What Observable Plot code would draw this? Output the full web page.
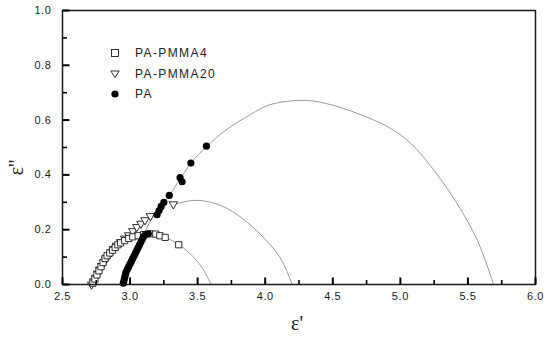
<!DOCTYPE html>
<html>
<head>
<meta charset="utf-8">
<script src="https://cdn.jsdelivr.net/npm/d3@7"></script>
<script src="https://cdn.jsdelivr.net/npm/@observablehq/plot@0.6"></script>
<style>
  html, body { margin: 0; padding: 0; background: #fff; }
  #wrap { position: relative; width: 550px; height: 338px; font-family: "Liberation Sans", Arial, sans-serif; color: #222; }
  .lab { position: absolute; font-family: "Liberation Serif", "DejaVu Serif", serif; font-size: 20px; color: #222; white-space: nowrap; }
  .leg { position: absolute; left: 108px; height: 14px; display: flex; align-items: center; font-size: 12px; letter-spacing: 1.4px; color: #222; white-space: nowrap; }
  .leg svg { width: 14px; height: 14px; margin-right: 13px; }
</style>
</head>
<body>
<div id="wrap"></div>
<script>
// ---- data ----
const seriesNames = ["PA-PMMA4", "PA-PMMA20", "PA"];

// PA-PMMA4 (open squares)
const pmma4X = [2.725, 2.74, 2.755, 2.77, 2.785, 2.80, 2.815, 2.83, 2.85, 2.87, 2.89, 2.91, 2.93, 2.96, 2.99, 3.02, 3.06, 3.10, 3.15, 3.19, 3.22, 3.26, 3.36];
const pmma4Y = [0.005, 0.02, 0.035, 0.05, 0.065, 0.08, 0.095, 0.105, 0.115, 0.125, 0.135, 0.145, 0.152, 0.16, 0.168, 0.174, 0.178, 0.182, 0.185, 0.184, 0.178, 0.172, 0.145];

// PA-PMMA20 (open down-triangles)
const pmma20X = [2.715, 2.73, 2.745, 2.76, 2.775, 2.79, 2.805, 2.82, 2.84, 2.86, 2.88, 2.90, 2.93, 2.96, 2.99, 3.02, 3.05, 3.08, 3.11, 3.15, 3.32];
const pmma20Y = [0.0, 0.012, 0.025, 0.04, 0.055, 0.068, 0.08, 0.092, 0.105, 0.118, 0.13, 0.142, 0.155, 0.168, 0.18, 0.195, 0.21, 0.222, 0.235, 0.25, 0.293];

// PA (filled circles)
const paX = [2.95, 2.955, 2.96, 2.965, 2.97, 2.98, 2.99, 3.00, 3.01, 3.02, 3.03, 3.04, 3.05, 3.06, 3.07, 3.08, 3.09, 3.10, 3.115, 3.135, 3.20, 3.215, 3.23, 3.25, 3.29, 3.37, 3.385, 3.45, 3.565];
const paY = [0.005, 0.015, 0.025, 0.035, 0.045, 0.055, 0.065, 0.075, 0.085, 0.095, 0.105, 0.115, 0.125, 0.135, 0.145, 0.155, 0.165, 0.175, 0.183, 0.185, 0.255, 0.27, 0.285, 0.30, 0.325, 0.39, 0.375, 0.443, 0.505];

// fitted arcs (grey lines)
const fitPAX = [2.95, 3.0, 3.05, 3.10, 3.16, 3.25, 3.29, 3.37, 3.45, 3.57, 3.7, 3.89, 4.04, 4.3, 4.51, 4.76, 4.93, 5.08, 5.25, 5.42, 5.57, 5.69];
const fitPAY = [0.0, 0.06, 0.12, 0.18, 0.24, 0.30, 0.325, 0.385, 0.443, 0.505, 0.56, 0.62, 0.657, 0.672, 0.653, 0.609, 0.569, 0.514, 0.416, 0.295, 0.161, 0.0];
const fit20X = [3.32, 3.47, 3.595, 3.72, 3.87, 3.99, 4.09, 4.15, 4.20];
const fit20Y = [0.292, 0.307, 0.30, 0.277, 0.226, 0.17, 0.113, 0.06, 0.0];
const fit4X = [3.15, 3.26, 3.36, 3.47, 3.546, 3.60];
const fit4Y = [0.185, 0.172, 0.146, 0.10, 0.051, 0.0];

// ticks
const xMajor = [2.5, 3.0, 3.5, 4.0, 4.5, 5.0, 5.5, 6.0];
const xMinor = [2.75, 3.25, 3.75, 4.25, 4.75, 5.25, 5.75];
const yMajor = [0.0, 0.2, 0.4, 0.6, 0.8, 1.0];
const yMinor = [0.1, 0.3, 0.5, 0.7, 0.9];
const xTitle = "ε'";
const yTitle = "ε''";

const zip = (xs, ys) => xs.map((x, i) => ({x, y: ys[i]}));
const fmt = d3.format(".1f");
const ink = "#1a1a1a";

const W = 550, H = 338, mL = 62, mR = 15, mT = 10, mB = 54;
const plotW = W - mL - mR, plotH = H - mT - mB;
const xDom = [2.5, 6.0], yDom = [0, 1.0];
// tick lengths (px) converted to data units of the opposite scale
const yPerPx = (yDom[1] - yDom[0]) / plotH;
const xPerPx = (xDom[1] - xDom[0]) / plotW;
const xTickRows = [...xMajor.map(v => ({v, len: 7, w: 2})), ...xMinor.map(v => ({v, len: 4.5, w: 1.6}))];
const yTickRows = [...yMajor.map(v => ({v, len: 7, w: 2})), ...yMinor.map(v => ({v, len: 4.5, w: 1.6}))];

const chart = Plot.plot({
  width: W,
  height: H,
  marginLeft: mL,
  marginRight: mR,
  marginTop: mT,
  marginBottom: mB,
  style: {fontFamily: "'Liberation Sans', Arial, sans-serif", fontSize: "11px", color: ink, background: "#fff"},
  x: {domain: xDom},
  y: {domain: yDom},
  marks: [
    Plot.line(zip(fitPAX, fitPAY), {x: "x", y: "y", stroke: "#9a9a9a", strokeWidth: 1, curve: "catmull-rom"}),
    Plot.line(zip(fit20X, fit20Y), {x: "x", y: "y", stroke: "#9a9a9a", strokeWidth: 1, curve: "catmull-rom"}),
    Plot.line(zip(fit4X, fit4Y), {x: "x", y: "y", stroke: "#9a9a9a", strokeWidth: 1, curve: "catmull-rom"}),
    Plot.dot(zip(pmma20X, pmma20Y), {x: "x", y: "y", symbol: "triangle", rotate: 180, r: 3.1, stroke: ink, strokeWidth: 0.9, fill: "#fff"}),
    Plot.dot(zip(pmma4X, pmma4Y), {x: "x", y: "y", symbol: "square", r: 3.5, stroke: ink, strokeWidth: 0.9, fill: "#fff"}),
    Plot.dot(zip(paX, paY), {x: "x", y: "y", r: 3.6, fill: "#000", stroke: "none"}),
    // tick labels
    Plot.axisX(xMajor, {tickSize: 0, tickPadding: 8, tickFormat: fmt, fontSize: 11, label: null, fill: ink}),
    Plot.axisY(yMajor, {tickSize: 0, tickPadding: 11, tickFormat: fmt, fontSize: 11, label: null, fill: ink}),
    Plot.frame({stroke: ink, strokeWidth: 1.5}),
    // inward ticks (drawn last, on top of the frame)
    Plot.link(xTickRows, {x1: "v", x2: "v", y1: () => yDom[0], y2: d => yDom[0] + d.len * yPerPx, stroke: "#000", strokeWidth: d => d.w}),
    Plot.link(yTickRows, {y1: "v", y2: "v", x1: () => xDom[0], x2: d => xDom[0] + d.len * xPerPx, stroke: "#000", strokeWidth: d => d.w})
  ]
});
chart.style.letterSpacing = "0.6px";

const wrap = document.getElementById("wrap");
wrap.appendChild(chart);

// axis titles
const xl = document.createElement("div");
xl.className = "lab";
xl.textContent = xTitle;
xl.style.left = "291px";
xl.style.top = "312px";
wrap.appendChild(xl);

const yl = document.createElement("div");
yl.className = "lab";
yl.textContent = yTitle;
yl.style.left = "9px";
yl.style.top = "156px";
yl.style.transform = "rotate(-90deg)";
yl.style.transformOrigin = "center center";
wrap.appendChild(yl);

// legend
const symbols = [
  '<rect x="3.5" y="3.5" width="7" height="7" fill="#fff" stroke="#1a1a1a" stroke-width="0.9"/>',
  '<path d="M2.8,4 L11.2,4 L7,10.5 Z" fill="#fff" stroke="#1a1a1a" stroke-width="0.9"/>',
  '<circle cx="7" cy="7" r="3.6" fill="#000"/>'
];
const rowTops = [46, 67, 87];
seriesNames.forEach((name, i) => {
  const row = document.createElement("div");
  row.className = "leg";
  row.style.top = rowTops[i] + "px";
  row.innerHTML = '<svg viewBox="0 0 14 14">' + symbols[i] + '</svg><span>' + name + '</span>';
  wrap.appendChild(row);
});
</script>
</body>
</html>
